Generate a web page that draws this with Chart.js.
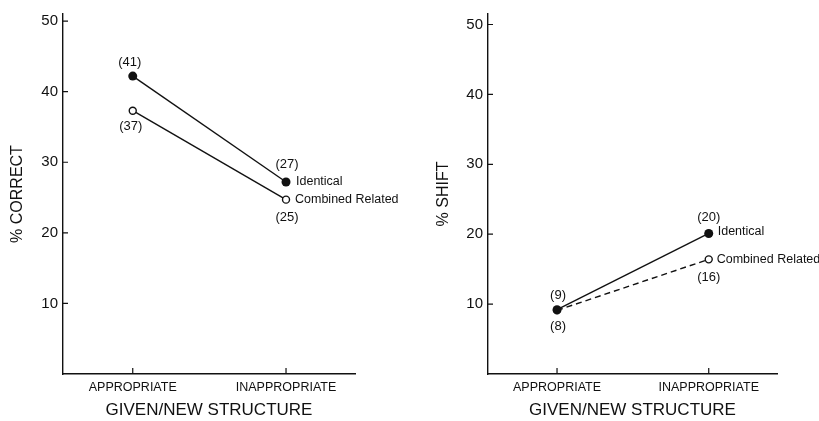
<!DOCTYPE html>
<html>
<head>
<meta charset="utf-8">
<script src="https://cdn.jsdelivr.net/npm/chart.js@4"></script>
<style>
  body { margin: 0; background: #fff; }
  #wrap { position: relative; width: 819px; height: 421px; }
  .pane { position: absolute; top: 0; width: 410px; height: 421px; }
</style>
</head>
<body>
<div id="wrap">
  <div class="pane" style="left:0"><canvas id="correct"></canvas></div>
  <div class="pane" style="left:410px"><canvas id="shift"></canvas></div>
</div>
<script>
'use strict';

// カテゴリ（x軸）
const categories = ['APPROPRIATE', 'INAPPROPRIATE'];
const yTicks = [10, 20, 30, 40, 50];
const seriesNames = ['Identical', 'Combined Related'];

// % CORRECT（左のグラフ）
const correctIdentical = [42.2, 27.2];
const correctCombined = [37.3, 24.7];
const correctIdenticalN = ['(41)', '(27)'];
const correctCombinedN = ['(37)', '(25)'];

// % SHIFT（右のグラフ）
const shiftIdentical = [9.2, 20.1];
const shiftCombined = [9.1, 16.4];
const shiftIdenticalN = ['(9)', '(20)'];
const shiftCombinedN = ['(8)', '(16)'];

const ink = '#111';
const fontFamily = '"Liberation Sans", Arial, sans-serif';

// 内側の目盛りと注記を描くプラグイン
const annotate = {
  id: 'annotate',
  afterDatasetsDraw(chart, args, opts) {
    const ctx = chart.ctx;
    const area = chart.chartArea;
    const xs = chart.scales.x, ys = chart.scales.y;
    ctx.save();
    ctx.strokeStyle = ink;
    ctx.lineWidth = 1.2;
    ctx.beginPath();
    yTicks.forEach(v => {
      const py = ys.getPixelForValue(v);
      ctx.moveTo(area.left, py);
      ctx.lineTo(area.left + 5, py);
    });
    categories.forEach((c, i) => {
      const px = xs.getPixelForValue(i);
      ctx.moveTo(px, area.bottom);
      ctx.lineTo(px, area.bottom - 6);
    });
    ctx.stroke();

    ctx.fillStyle = ink;
    ctx.textBaseline = 'middle';
    ctx.font = '13px ' + fontFamily;
    ctx.textAlign = 'center';
    opts.counts.forEach(item => {
      const ds = chart.data.datasets[item.set];
      item.text.forEach((t, i) => {
        const px = xs.getPixelForValue(i);
        const py = ys.getPixelForValue(ds.data[i].y);
        ctx.fillText(t, px + item.off[i][0], py + item.off[i][1]);
      });
    });
    ctx.textAlign = 'left';
    ctx.font = '12.5px ' + fontFamily;
    opts.names.forEach(item => {
      const ds = chart.data.datasets[item.set];
      const px = xs.getPixelForValue(1);
      const py = ys.getPixelForValue(ds.data[1].y);
      ctx.fillText(ds.label, px + item.off[0], py + item.off[1]);
    });
    ctx.restore();
  }
};

function makeChart(id, cfg) {
  const ctx = document.getElementById(id).getContext('2d');
  return new Chart(ctx, {
    type: 'line',
    data: {
      datasets: [{
        label: seriesNames[0],
        data: cfg.identical.map((v, i) => ({ x: i, y: v })),
        borderColor: ink,
        borderWidth: 1.4,
        pointRadius: 4.5,
        pointBackgroundColor: ink,
        pointBorderColor: ink,
        pointBorderWidth: 0
      }, {
        label: seriesNames[1],
        data: cfg.combined.map((v, i) => ({ x: i, y: v })),
        borderColor: ink,
        borderWidth: 1.4,
        borderDash: cfg.dash,
        pointRadius: 3.5,
        pointBackgroundColor: '#fff',
        pointBorderColor: ink,
        pointBorderWidth: 1.4
      }]
    },
    options: {
      responsive: false,
      animation: false,
      layout: { padding: cfg.padding },
      plugins: {
        legend: { display: false },
        tooltip: { enabled: false },
        annotate: cfg.notes
      },
      scales: {
        x: {
          type: 'linear',
          min: -0.455,
          max: 1.45,
          grid: { display: false, drawTicks: false },
          border: { display: true, color: ink, width: 1.4 },
          afterBuildTicks: s => { s.ticks = categories.map((c, i) => ({ value: i })); },
          afterFit: s => { s.height = 47; },
          ticks: {
            color: ink,
            padding: 6,
            maxRotation: 0,
            font: { family: fontFamily, size: 12.5 },
            callback: v => categories[v]
          },
          title: {
            display: true,
            text: 'GIVEN/NEW STRUCTURE',
            color: ink,
            padding: { top: 0, bottom: 0 },
            font: { family: fontFamily, size: 17 }
          }
        },
        y: {
          min: 0,
          max: cfg.yMax,
          grid: { display: false, drawTicks: false },
          border: { display: true, color: ink, width: 1.4 },
          afterBuildTicks: s => { s.ticks = yTicks.map(v => ({ value: v })); },
          afterFit: s => { s.width = cfg.yWidth; },
          ticks: {
            color: ink,
            padding: 5,
            font: { family: fontFamily, size: 15 }
          },
          title: {
            display: true,
            text: cfg.yTitle,
            color: ink,
            padding: { top: cfg.titlePad, bottom: 0 },
            font: { family: fontFamily, size: 16 }
          }
        }
      }
    },
    plugins: [annotate]
  });
}

document.getElementById('correct').width = 410;
document.getElementById('correct').height = 421;
document.getElementById('shift').width = 409;
document.getElementById('shift').height = 421;

makeChart('correct', {
  identical: correctIdentical,
  combined: correctCombined,
  dash: [],
  yMax: 51,
  yWidth: 63,
  yTitle: '% CORRECT',
  titlePad: 8,
  padding: { left: 0, right: 55, top: 12, bottom: 0 },
  notes: {
    counts: [
      { set: 0, text: correctIdenticalN, off: [[-3, -14], [1, -18]] },
      { set: 1, text: correctCombinedN, off: [[-2, 16], [1, 18]] }
    ],
    names: [
      { set: 0, off: [10, 0] },
      { set: 1, off: [9, 0] }
    ]
  }
});

makeChart('shift', {
  identical: shiftIdentical,
  combined: shiftCombined,
  dash: [6, 4],
  yMax: 51.5,
  yWidth: 78,
  yTitle: '% SHIFT',
  titlePad: 24,
  padding: { left: 0, right: 42, top: 10, bottom: 0 },
  notes: {
    counts: [
      { set: 0, text: shiftIdenticalN, off: [[1, -14], [0, -16]] },
      { set: 1, text: shiftCombinedN, off: [[1, 16], [0, 18]] }
    ],
    names: [
      { set: 0, off: [9, -2] },
      { set: 1, off: [8, 0] }
    ]
  }
});
</script>
</body>
</html>
